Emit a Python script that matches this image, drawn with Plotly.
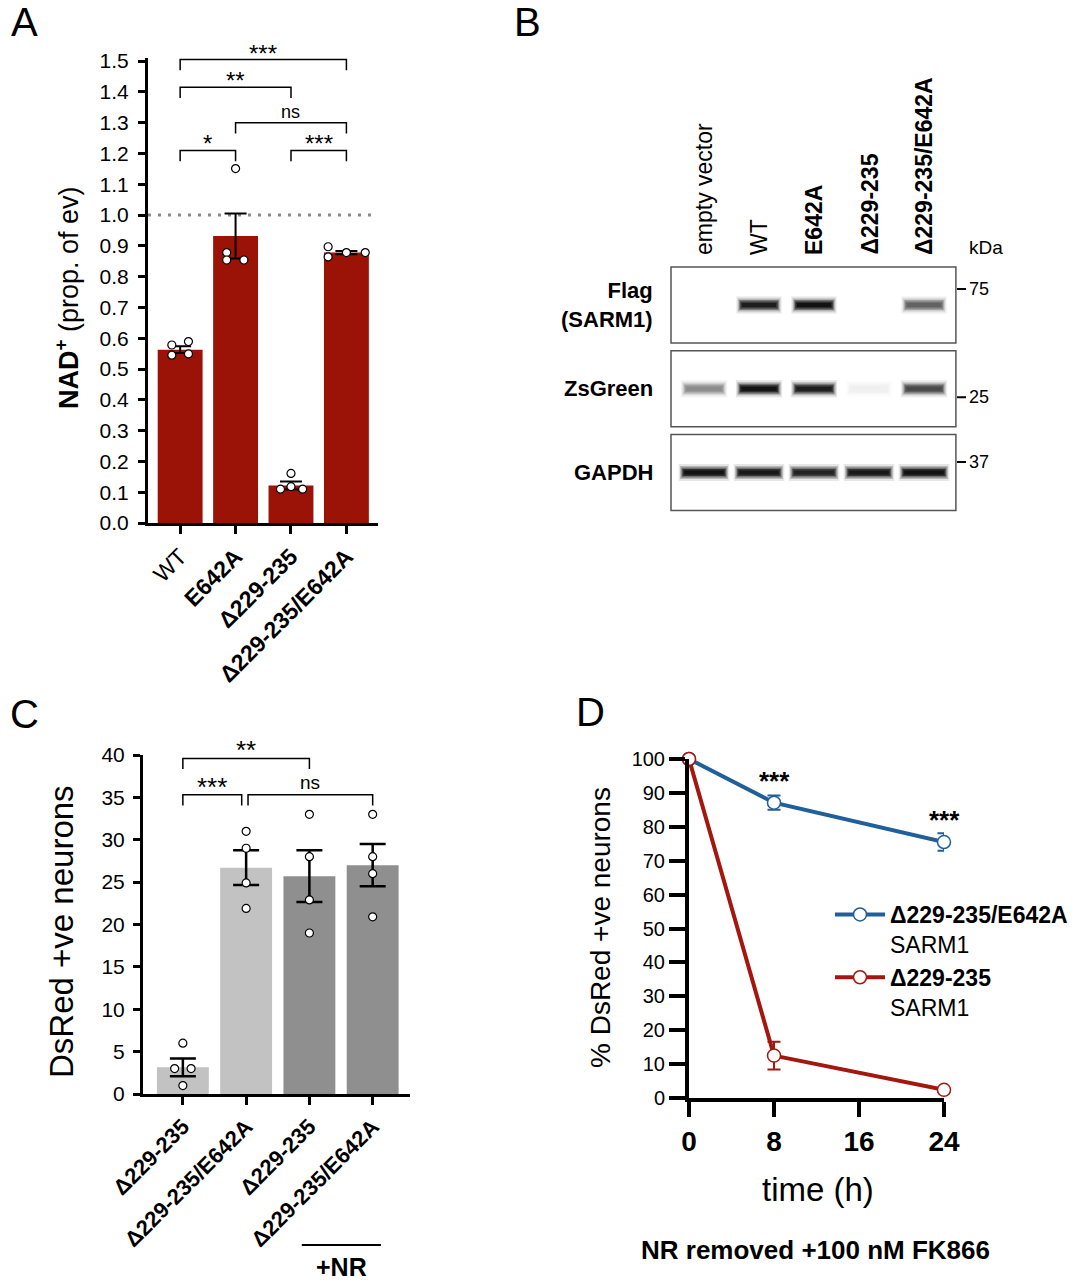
import plotly.graph_objects as go

W, H = 1088, 1280
FONT = "Liberation Sans, Arial, Helvetica, sans-serif"

def px(x):
    return x / W

def py(y):
    return 1 - y / H

# ---------------- Panel A data ----------------
a_labels = ["WT", "E642A", "Δ229-235", "Δ229-235/E642A"]
a_bold = [False, True, True, True]
a_mean = [0.563, 0.932, 0.122, 0.878]
a_sem = [0.011, 0.073, 0.013, 0.005]
a_points = [[0.578, 0.589, 0.545, 0.549],
            [1.151, 0.878, 0.854, 0.854],
            [0.161, 0.110, 0.118, 0.110],
            [0.897, 0.864, 0.878, 0.878]]
a_jitter = [[-0.15, 0.15, -0.15, 0.15],
            [0.0, -0.16, -0.16, 0.15],
            [0.0, -0.19, 0.0, 0.21],
            [-0.33, -0.33, 0.0, 0.34]]
a_ref = 1.0
a_yticks = [round(0.1 * i, 1) for i in range(16)]
# (from, to, bracket level, label)
a_sig = [(0, 3, 1.505, "***"), (0, 2, 1.415, "**"), (1, 3, 1.30, "ns"),
         (0, 1, 1.21, "*"), (2, 3, 1.21, "***")]

# ---------------- Panel B data ----------------
b_lanes = ["empty vector", "WT", "E642A", "Δ229-235", "Δ229-235/E642A"]
b_lane_bold = [False, False, True, True, True]
b_rows = ["Flag<br>(SARM1)", "ZsGreen", "GAPDH"]
b_band = [[0.0, 0.90, 0.95, 0.0, 0.62],
          [0.45, 0.95, 0.90, 0.04, 0.72],
          [0.95, 0.92, 0.88, 0.92, 0.95]]
b_band_half = [0.36, 0.37, 0.41]
b_kda = [("75", -0.19), ("25", 1.10), ("37", 1.875)]

# ---------------- Panel C data ----------------
c_labels = ["Δ229-235", "Δ229-235/E642A", "Δ229-235", "Δ229-235/E642A"]
c_mean = [3.15, 26.7, 25.7, 27.0]
c_sem = [1.05, 2.05, 3.05, 2.5]
c_points = [[6.0, 3.0, 3.0, 1.0],
            [31.0, 29.0, 24.9, 21.9],
            [33.0, 28.0, 22.9, 19.0],
            [33.0, 28.0, 26.0, 20.9]]
c_jitter = [[0.0, -0.13, 0.13, 0.0], [0, 0, 0, 0], [0, 0, 0, 0], [0, 0, 0, 0]]
c_colors = ["#c2c2c2", "#c2c2c2", "#8f8f8f", "#8f8f8f"]
c_sig = [(0, 2, 39.6, "**"), (0, 0.93, 35.3, "***"), (1.03, 3, 35.3, "ns")]

# ---------------- Panel D data ----------------
d_time = [0, 8, 24]
d_blue = [100, 87.1, 75.5]
d_blue_err = [0, 2.1, 2.6]
d_red = [100, 12.5, 2.4]
d_red_err = [0, 4.1, 0.6]
d_sig = [(8, 94.0, "***"), (24, 82.6, "***")]

RED = "#9b1306"
BLUE = "#1f5f9b"
DRED = "#a3170f"

fig = go.Figure()
shapes = []
ann = []

# ================= Panel A =================
fig.add_trace(go.Bar(x=list(range(4)), y=a_mean, width=0.81,
                     marker=dict(color=RED, line=dict(width=0)),
                     error_y=dict(type="data", array=a_sem, color="black",
                                  thickness=2, width=11),
                     xaxis="x", yaxis="y", showlegend=False))
for i, (pts, jit) in enumerate(zip(a_points, a_jitter)):
    fig.add_trace(go.Scatter(x=[i + j for j in jit], y=pts, mode="markers",
                             marker=dict(symbol="circle", size=8, color="white",
                                         line=dict(color="black", width=1.2)),
                             cliponaxis=False, xaxis="x", yaxis="y",
                             showlegend=False))
shapes.append(dict(type="line", xref="x domain", yref="y", x0=0, x1=1,
                   y0=a_ref, y1=a_ref, layer="below",
                   line=dict(color="#8a8a8a", width=3, dash="3px,7px")))
for x0, x1, top, txt in a_sig:
    d = 0.035
    shapes.append(dict(type="path", xref="x", yref="y",
                       path=f"M {x0},{top-d} L {x0},{top} L {x1},{top} L {x1},{top-d}",
                       line=dict(color="black", width=1.5)))
    star = txt != "ns"
    ann.append(dict(x=(x0 + x1) / 2, y=top, xref="x", yref="y", text=txt,
                    showarrow=False, xanchor="center", yanchor="bottom",
                    yshift=-9 if star else -1,
                    font=dict(size=24 if star else 18, color="black")))

# ================= Panel B =================
band_layers = [(17, 0.05, 0.10), (13, 0.025, 0.22), (10, 0.0, 0.40),
               (7, -0.02, 0.65), (4, -0.05, 0.85)]
for r, row in enumerate(b_band):
    for i, v in enumerate(row):
        if v <= 0.02:
            continue
        g = int(round(250 * (1 - v)))
        col = f"rgb({g},{g},{g})"
        hw = b_band_half[r]
        for thick, extra, op in band_layers:
            fig.add_trace(go.Scatter(x=[i - hw - extra, i + hw + extra], y=[r, r],
                                     mode="lines", line=dict(color=col, width=thick),
                                     opacity=op, xaxis="x2", yaxis="y2",
                                     hoverinfo="skip", showlegend=False))
for r in range(len(b_rows)):
    shapes.append(dict(type="rect", xref="x2", yref="y2", x0=-0.6, x1=4.58,
                       y0=r - 0.454, y1=r + 0.454,
                       line=dict(color="#555555", width=1.5)))
    ann.append(dict(x=px(655), y=r, xref="paper", yref="y2", text=f"<b>{b_rows[r]}</b>",
                    showarrow=False, xanchor="right", yanchor="middle", align="right",
                    font=dict(size=22, color="black")))
for i, lab in enumerate(b_lanes):
    t = f"<b>{lab}</b>" if b_lane_bold[i] else lab
    ann.append(dict(x=i, y=py(257), xref="x2", yref="paper", text=t, textangle=-90,
                    showarrow=False, xanchor="center", yanchor="bottom",
                    font=dict(size=23, color="black")))
for lab, yv in b_kda:
    shapes.append(dict(type="line", xref="paper", yref="y2", x0=px(957), x1=px(966),
                       y0=yv, y1=yv, line=dict(color="black", width=2)))
    ann.append(dict(x=px(967), y=yv, xref="paper", yref="y2", text=lab,
                    showarrow=False, xanchor="left", yanchor="middle",
                    font=dict(size=18, color="black")))
ann.append(dict(x=px(967), y=py(248), xref="paper", yref="paper", text="kDa",
                showarrow=False, xanchor="left", yanchor="middle",
                font=dict(size=19, color="black")))

# ================= Panel C =================
fig.add_trace(go.Bar(x=list(range(4)), y=c_mean, width=0.82,
                     marker=dict(color=c_colors, line=dict(width=0)),
                     error_y=dict(type="data", array=c_sem, color="black",
                                  thickness=2.5, width=13),
                     xaxis="x3", yaxis="y3", showlegend=False))
for i, (pts, jit) in enumerate(zip(c_points, c_jitter)):
    fig.add_trace(go.Scatter(x=[i + j for j in jit], y=pts, mode="markers",
                             marker=dict(symbol="circle", size=8, color="white",
                                         line=dict(color="black", width=1.2)),
                             cliponaxis=False, xaxis="x3", yaxis="y3",
                             showlegend=False))
for x0, x1, top, txt in c_sig:
    d = 1.25
    shapes.append(dict(type="path", xref="x3", yref="y3",
                       path=f"M {x0},{top-d} L {x0},{top} L {x1},{top} L {x1},{top-d}",
                       line=dict(color="black", width=1.5)))
    star = txt != "ns"
    ann.append(dict(x=(x0 + x1) / 2, y=top, xref="x3", yref="y3", text=txt,
                    showarrow=False, xanchor="center", yanchor="bottom",
                    yshift=-9 if star else 0,
                    font=dict(size=26 if star else 19, color="black")))
shapes.append(dict(type="line", xref="x3", yref="paper", x0=1.88, x1=3.13,
                   y0=py(1245), y1=py(1245), line=dict(color="black", width=2)))
ann.append(dict(x=2.5, y=py(1267), xref="x3", yref="paper", text="<b>+NR</b>",
                showarrow=False, xanchor="center", yanchor="middle",
                font=dict(size=25, color="black")))

# ================= Panel D =================
fig.add_trace(go.Scatter(x=d_time, y=d_blue, mode="lines+markers",
                         name="<b>Δ229-235/E642A</b><br>SARM1",
                         line=dict(color=BLUE, width=4),
                         marker=dict(symbol="circle", size=13, color="white",
                                     line=dict(color=BLUE, width=1.5)),
                         error_y=dict(type="data", array=d_blue_err, color=BLUE,
                                      thickness=2, width=6.5),
                         cliponaxis=False, xaxis="x4", yaxis="y4"))
fig.add_trace(go.Scatter(x=d_time, y=d_red, mode="lines+markers",
                         name="<b>Δ229-235</b><br>SARM1",
                         line=dict(color=DRED, width=4),
                         marker=dict(symbol="circle", size=13, color="white",
                                     line=dict(color=DRED, width=1.5)),
                         error_y=dict(type="data", array=d_red_err, color=DRED,
                                      thickness=2, width=6.5),
                         cliponaxis=False, xaxis="x4", yaxis="y4"))
for xv, yv, txt in d_sig:
    ann.append(dict(x=xv, y=yv, xref="x4", yref="y4", text=f"<b>{txt}</b>",
                    showarrow=False, xanchor="center", yanchor="middle", yshift=-2,
                    font=dict(size=26, color="black")))

# ================= Titles / letters =================
titles = [
    dict(x=px(24), y=py(22), text="A", font=dict(size=40)),
    dict(x=px(527), y=py(22), text="B", font=dict(size=40)),
    dict(x=px(24), y=py(714), text="C", font=dict(size=40)),
    dict(x=px(590), y=py(712), text="D", font=dict(size=40)),
    dict(x=px(67), y=py(298), text="<b>NAD<sup>+</sup></b> (prop. of ev)",
         textangle=-90, font=dict(size=27)),
    dict(x=px(61), y=py(932), text="DsRed +ve neurons", textangle=-90,
         font=dict(size=33)),
    dict(x=px(600), y=py(928), text="% DsRed +ve neurons", textangle=-90,
         font=dict(size=28)),
    dict(x=px(818), y=py(1189), text="time (h)", font=dict(size=33)),
    dict(x=px(815), y=py(1250), text="<b>NR removed +100 nM FK866</b>",
         font=dict(size=26)),
]
for a in titles:
    a.update(xref="paper", yref="paper", showarrow=False,
             xanchor="center", yanchor="middle")
    a["font"]["color"] = "black"
ann += titles

# ================= Axes =================
axis_common = dict(showgrid=False, zeroline=False, showline=True, linecolor="black",
                   ticks="outside", tickcolor="black", fixedrange=True)

a_ticktext = [f"<b>{l}</b>" if b else l for l, b in zip(a_labels, a_bold)]
c_ticktext = [f"<b>{l}</b>" for l in c_labels]

fig.update_layout(
    width=W, height=H, autosize=False,
    margin=dict(l=0, r=0, t=0, b=0),
    paper_bgcolor="white", plot_bgcolor="rgba(0,0,0,0)",
    font=dict(family=FONT, color="black"),
    template="none",
    shapes=shapes, annotations=ann,
    xaxis=dict(axis_common, domain=[px(148), px(378)], range=[-0.58, 3.57],
               tickvals=list(range(4)), ticktext=a_ticktext, tickangle=-45,
               linewidth=3, tickwidth=3, ticklen=8, tickfont=dict(size=23),
               anchor="y"),
    yaxis=dict(axis_common, domain=[py(523), py(58)], range=[0, 1.51],
               tickvals=a_yticks, ticktext=[f"{v:.1f}" for v in a_yticks],
               linewidth=3, tickwidth=3, ticklen=7, tickfont=dict(size=21),
               ticklabelstandoff=5, anchor="x"),
    xaxis2=dict(domain=[px(669.35), px(957.55)], range=[-0.63, 4.61],
                visible=False, fixedrange=True, anchor="y2"),
    yaxis2=dict(domain=[py(511.9), py(265.6)], range=[2.47, -0.47],
                visible=False, fixedrange=True, anchor="x2"),
    xaxis3=dict(axis_common, domain=[px(143), px(410)], range=[-0.63, 3.59],
                tickvals=list(range(4)), ticktext=c_ticktext, tickangle=-45,
                linewidth=3, tickwidth=3, ticklen=8, tickfont=dict(size=22),
                anchor="y3"),
    yaxis3=dict(axis_common, domain=[py(1094), py(755)], range=[0, 40],
                tickvals=list(range(0, 41, 5)), linewidth=3, tickwidth=3,
                ticklen=7, tickfont=dict(size=21), ticklabelstandoff=4,
                anchor="x3"),
    xaxis4=dict(axis_common, domain=[px(689), px(944)], range=[0, 24],
                tickvals=[0, 8, 16, 24], ticktext=[f"<b>{v}</b>" for v in [0, 8, 16, 24]],
                linewidth=4, tickwidth=4, ticklen=15, tickfont=dict(size=28),
                anchor="y4"),
    yaxis4=dict(axis_common, domain=[py(1098), py(759)], range=[0, 100],
                tickvals=list(range(0, 101, 10)), linewidth=4, tickwidth=4,
                ticklen=16, tickfont=dict(size=20), anchor="x4"),
    legend=dict(x=px(830), y=py(893), xanchor="left", yanchor="top",
                bgcolor="rgba(0,0,0,0)", font=dict(size=23, color="black"),
                valign="top", itemwidth=50, traceorder="normal",
                tracegroupgap=10),
    showlegend=True,
    barmode="overlay",
)

fig.write_html("out.html", config={"displayModeBar": False},
               post_script="document.body.style.margin='0px';document.body.style.padding='0px';")
